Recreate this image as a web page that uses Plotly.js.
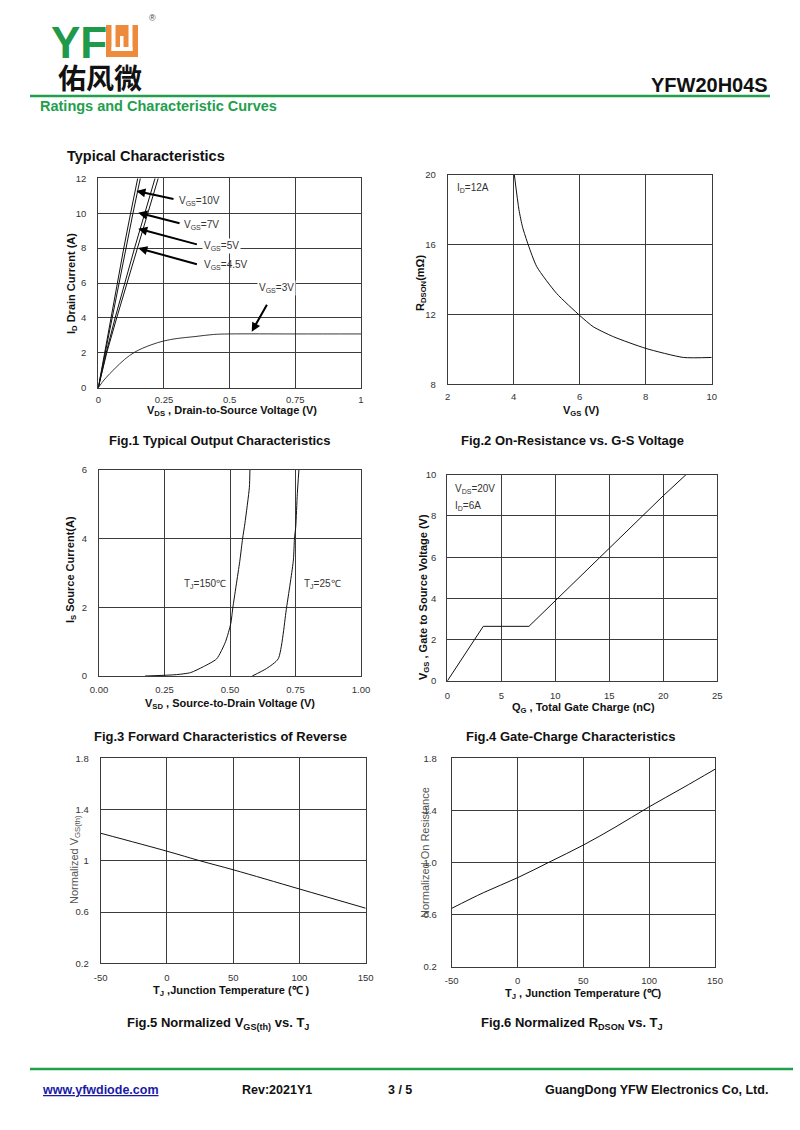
<!DOCTYPE html>
<html><head><meta charset="utf-8">
<script src="https://cdn.plot.ly/plotly-3.0.1.min.js"></script>
<style>html,body{margin:0;padding:0;background:#fff}#chart{width:800px;height:1130px}</style>
</head><body><div id="chart"></div>
<script>
// ---------- DATA ----------
// Fig.1 Typical Output Characteristics (ID levels vs VDS)
const fig1IdLevels = [0, 2, 4, 6, 8, 10, 12];
const fig1Vds10V  = [0, 0.024, 0.048, 0.072, 0.097, 0.123, 0.150];
const fig1Vds7V   = [0, 0.026, 0.052, 0.080, 0.105, 0.132, 0.160];
const fig1Vds5V   = [0, 0.030, 0.064, 0.100, 0.138, 0.177, 0.216];
const fig1Vds45V  = [0, 0.032, 0.070, 0.110, 0.148, 0.188, 0.228];
const fig1Vds3V   = [0, 0.025, 0.064, 0.1, 0.14, 0.2, 0.25, 0.3, 0.368, 0.438, 0.5, 0.75, 1];
const fig1Id3V    = [0, 0.5, 1.11, 1.62, 2.05, 2.45, 2.68, 2.82, 2.93, 3.05, 3.08, 3.08, 3.08];
// Fig.2 On-Resistance vs VGS
const fig2Vgs   = [4.02, 4.16, 4.27, 4.44, 4.7, 5.3, 6.01, 6.41, 7.02, 8.0, 9.14, 10];
const fig2Rdson = [20, 18, 17, 16, 14.74, 13.21, 11.93, 11.3, 10.73, 10.06, 9.54, 9.54];
// Fig.3 Forward characteristics of reverse diode
const fig3Vsd150 = [0.176, 0.296, 0.35, 0.398, 0.449, 0.483, 0.503, 0.511, 0.538, 0.548, 0.557, 0.574, 0.576];
const fig3Is150  = [0, 0.04, 0.1, 0.27, 0.5, 1.0, 1.53, 2.0, 3.38, 4.0, 4.45, 5.5, 6];
const fig3Vsd25  = [0.585, 0.64, 0.684, 0.716, 0.742, 0.746, 0.751, 0.757, 0.763];
const fig3Is25   = [0, 0.22, 0.5, 2.0, 3.38, 4.0, 4.35, 5.32, 6];
// Fig.4 Gate charge
const fig4Qg  = [0, 3.33, 7.56, 10, 15, 20, 22.1];
const fig4Vgs = [0, 2.65, 2.65, 3.9, 6.44, 8.98, 10];
// Fig.5 Normalized VGS(th) vs TJ
const fig5Tj  = [-50, 0, 25, 50, 100, 150];
const fig5Vth = [1.215, 1.075, 1.0, 0.93, 0.78, 0.63];
// Fig.6 Normalized RDSON vs TJ
const fig6Tj   = [-50, -26, 0, 24.7, 50, 74, 99.4, 125, 150];
const fig6Rdson = [0.648, 0.768, 0.883, 1.006, 1.134, 1.27, 1.424, 1.57, 1.716];

// tick labels
const fig1XTicks = [0, 0.25, 0.5, 0.75, 1];      const fig1XText = ['0','0.25','0.5','0.75','1'];
const fig1YTicks = [0, 2, 4, 6, 8, 10, 12];
const fig2XTicks = [2, 4, 6, 8, 10];             const fig2YTicks = [8, 12, 16, 20];
const fig3XTicks = [0, 0.25, 0.5, 0.75, 1];      const fig3XText = ['0.00','0.25','0.50','0.75','1.00'];
const fig3YTicks = [0, 2, 4, 6];
const fig4XTicks = [0, 5, 10, 15, 20, 25];       const fig4YTicks = [0, 2, 4, 6, 8, 10];
const fig5XTicks = [-50, 0, 50, 100, 150];       const fig5YTicks = [0.2, 0.6, 1, 1.4, 1.8];
const fig5YText = ['0.2','0.6','1','1.4','1.8'];
const fig6XTicks = [-50, 0, 50, 100, 150];       const fig6YTicks = [0.2, 0.6, 1.0, 1.4, 1.8];
const fig6YText = ['0.2','0.6','1.0','1.4','1.8'];

// ---------- LAYOUT ----------
const W = 800, H = 1130;
const FONT = 'Liberation Sans, Arial, Helvetica, sans-serif';
const GREEN = '#21a04c';
const px = x => x / W, py = y => 1 - y / H;

const boxes = [
  [98.3, 361, 178.3, 387.7],
  [447.7, 711.7, 175, 384.3],
  [99, 361, 470, 676],
  [447.3, 717.3, 474.7, 681],
  [100.7, 365.7, 758.3, 963.3],
  [451.7, 715, 758.3, 966.7]
];
const ranges = [
  [[0,1],[0,12]], [[2,10],[8,20]], [[0,1],[0,6]], [[0,25],[0,10]], [[-50,150],[0.2,1.8]], [[-50,150],[0.2,1.8]]
];
const ticks = [
  [fig1XTicks, fig1XText, fig1YTicks, null],
  [fig2XTicks, null, fig2YTicks, null],
  [fig3XTicks, fig3XText, fig3YTicks, null],
  [fig4XTicks, null, fig4YTicks, null],
  [fig5XTicks, null, fig5YTicks, fig5YText],
  [fig6XTicks, null, fig6YTicks, fig6YText]
];
const xStand = [3, 3, 5, 6, 5, 5];
const yStand = [9, 9, 9, 8, 9, 12];

const layout = {
  width: W, height: H, margin: {l:0, r:0, t:0, b:0},
  paper_bgcolor: '#fff', plot_bgcolor: '#fff', showlegend: false,
  font: {family: FONT, color: '#000'},
  annotations: [], shapes: []
};
const GRID = '#3c3c3c';
boxes.forEach((b, i) => {
  const n = i + 1, sx = n === 1 ? '' : n;
  const [xt, xtt, yt, ytt] = ticks[i];
  layout['xaxis' + sx] = {
    domain: [px(b[0]), px(b[1])], range: ranges[i][0], anchor: 'y' + sx,
    tickmode: 'array', tickvals: xt, ticktext: xtt || xt.map(String),
    showgrid: true, gridcolor: GRID, gridwidth: 1, zeroline: false,
    showline: true, mirror: true, linecolor: GRID, linewidth: 1, ticks: '',
    ticklabelstandoff: xStand[i],
    tickfont: {family: FONT, size: 9.5, color: '#333'}, fixedrange: true
  };
  layout['yaxis' + sx] = {
    domain: [py(b[3]), py(b[2])], range: ranges[i][1], anchor: 'x' + sx,
    tickmode: 'array', tickvals: yt, ticktext: ytt || yt.map(String),
    showgrid: true, gridcolor: GRID, gridwidth: 1, zeroline: false,
    showline: true, mirror: true, linecolor: GRID, linewidth: 1, ticks: '',
    ticklabelstandoff: yStand[i],
    tickfont: {family: FONT, size: 9.5, color: '#333'}, fixedrange: true
  };
});

const A = layout.annotations, S = layout.shapes;
function txt(x, y, text, o) {
  o = o || {};
  A.push(Object.assign({
    xref: 'paper', yref: 'paper', x: px(x), y: py(y), text: text, showarrow: false,
    xanchor: 'center', yanchor: 'middle',
    font: {family: FONT, size: 11, color: '#000'}
  }, o));
}
function line(x0, y0, x1, y1, color, w) {
  S.push({type: 'line', xref: 'paper', yref: 'paper', x0: px(x0), y0: py(y0), x1: px(x1), y1: py(y1),
          line: {color: color, width: w}});
}
function rect(x0, y0, x1, y1, color) {
  S.push({type: 'rect', xref: 'paper', yref: 'paper', x0: px(x0), y0: py(y0), x1: px(x1), y1: py(y1),
          fillcolor: color, line: {width: 0}});
}

// ---------- HEADER ----------
txt(49, 42, '<b>YF</b>', {xanchor: 'left', font: {family: 'Liberation Sans Narrow, Liberation Sans, sans-serif', size: 44, color: '#1e9a4a'}});
rect(106, 25, 138, 57, '#ee8a3c');
rect(111.5, 25, 115.5, 51, '#fff');
rect(128.5, 25, 132.5, 51, '#fff');
rect(111.5, 47, 132.5, 51, '#fff');
rect(120, 36, 123.5, 51, '#fff');
txt(152, 18, '®', {font: {family: FONT, size: 9, color: '#444'}});
txt(100, 77, '<b>佑风微</b>', {font: {family: 'Noto Sans CJK SC, sans-serif', size: 28, color: '#111'}});
txt(770, 85, '<b>YFW20H04S</b>', {xanchor: 'right', font: {family: FONT, size: 20, color: '#111'}});
line(30, 96, 770, 96, GREEN, 2.5);
txt(38, 106, '<b>Ratings and Characteristic Curves</b>', {xanchor: 'left', font: {family: FONT, size: 14.5, color: GREEN}});
txt(65, 156, '<b>Typical Characteristics</b>', {xanchor: 'left', font: {family: FONT, size: 14.5, color: '#111'}});

// ---------- TRACES ----------
const ln = {color: '#111', width: 1};
const traces = [
  {x: fig1Vds10V, y: fig1IdLevels, xaxis: 'x', yaxis: 'y', name: 'VGS=10V'},
  {x: fig1Vds7V,  y: fig1IdLevels, xaxis: 'x', yaxis: 'y', name: 'VGS=7V'},
  {x: fig1Vds5V,  y: fig1IdLevels, xaxis: 'x', yaxis: 'y', name: 'VGS=5V'},
  {x: fig1Vds45V, y: fig1IdLevels, xaxis: 'x', yaxis: 'y', name: 'VGS=4.5V'},
  {x: fig1Vds3V,  y: fig1Id3V,     xaxis: 'x', yaxis: 'y', name: 'VGS=3V', line: {color: '#222', width: 0.9, shape: 'spline'}},
  {x: fig2Vgs, y: fig2Rdson, xaxis: 'x2', yaxis: 'y2', line: {color: '#111', width: 1, shape: 'spline', smoothing: 0.6}},
  {x: fig3Vsd150, y: fig3Is150, xaxis: 'x3', yaxis: 'y3', line: {color: '#111', width: 1, shape: 'spline', smoothing: 0.6}},
  {x: fig3Vsd25,  y: fig3Is25,  xaxis: 'x3', yaxis: 'y3', line: {color: '#111', width: 1, shape: 'spline', smoothing: 0.6}},
  {x: fig4Qg, y: fig4Vgs, xaxis: 'x4', yaxis: 'y4'},
  {x: fig5Tj, y: fig5Vth, xaxis: 'x5', yaxis: 'y5', line: {color: '#111', width: 1, shape: 'spline'}},
  {x: fig6Tj, y: fig6Rdson, xaxis: 'x6', yaxis: 'y6', line: {color: '#111', width: 1, shape: 'spline'}}
].map(t => Object.assign({type: 'scatter', mode: 'lines', line: ln, hoverinfo: 'skip'}, t));

// ---------- FIG.1 ANNOTATIONS ----------
const labFont = {family: FONT, size: 10, color: '#333'};
function arrow(xr, yr, x, y, ax, ay) {
  A.push({xref: xr, yref: yr, axref: xr, ayref: yr, x: x, y: y, ax: ax, ay: ay, text: '',
          showarrow: true, arrowhead: 2, arrowsize: 0.9, arrowwidth: 2, arrowcolor: '#000', standoff: 0});
}
function dlab(xr, yr, x, y, text, bg) {
  A.push({xref: xr, yref: yr, x: x, y: y, text: text, showarrow: false, xanchor: 'left', yanchor: 'middle',
          font: labFont, bgcolor: bg ? '#fff' : 'rgba(0,0,0,0)', borderpad: 1});
}
arrow('x', 'y', 0.145, 11.27, 0.292, 10.8);
arrow('x', 'y', 0.152, 10.03, 0.315, 9.40);
arrow('x', 'y', 0.152, 9.11, 0.381, 8.19);
arrow('x', 'y', 0.152, 8.0, 0.381, 7.05);
arrow('x', 'y', 0.584, 3.21, 0.645, 4.84);
dlab('x', 'y', 0.300, 10.7, 'V<sub>GS</sub>=10V');
dlab('x', 'y', 0.320, 9.34, 'V<sub>GS</sub>=7V');
dlab('x', 'y', 0.394, 8.12, 'V<sub>GS</sub>=5V', true);
dlab('x', 'y', 0.394, 7.01, 'V<sub>GS</sub>=4.5V');
dlab('x', 'y', 0.603, 5.70, 'V<sub>GS</sub>=3V', true);

// in-plot labels for other figs
txt(455, 188, 'I<sub>D</sub>=12A', {xanchor: 'left', font: labFont});
txt(182, 584, 'T<sub>J</sub>=150℃', {xanchor: 'left', font: labFont});
txt(302, 584, 'T<sub>J</sub>=25℃', {xanchor: 'left', font: labFont});
txt(453, 489, 'V<sub>DS</sub>=20V', {xanchor: 'left', font: labFont});
txt(453, 506, 'I<sub>D</sub>=6A', {xanchor: 'left', font: labFont});

// ---------- AXIS TITLES ----------
const atFont = {family: FONT, size: 11, color: '#111'};
const atFontR = {family: FONT, size: 11, color: '#555'};
txt(232, 411, '<b>V<sub>DS</sub> , Drain-to-Source Voltage (V)</b>', {font: atFont});
txt(72, 284, '<b>I<sub>D</sub> Drain Current (A)</b>', {textangle: -90, font: atFont});
txt(581, 411, '<b>V<sub>GS</sub> (V)</b>', {font: atFont});
txt(421, 283, '<b>R<sub>DSON</sub>(mΩ)</b>', {textangle: -90, font: atFont});
txt(230, 704, '<b>V<sub>SD</sub> , Source-to-Drain Voltage (V)</b>', {font: atFont});
txt(71, 570, '<b>I<sub>S</sub> Source Current(A)</b>', {textangle: -90, font: atFont});
txt(583, 708, '<b>Q<sub>G</sub> , Total Gate Charge (nC)</b>', {font: atFont});
txt(424, 597, '<b>V<sub>GS</sub> , Gate to Source Voltage (V)</b>', {textangle: -90, font: atFont});
txt(232, 991, '<b>T<sub>J</sub> ,Junction Temperature (℃ )</b>', {font: atFont});
txt(75, 860, 'Normalized V<sub>GS(th)</sub>', {textangle: -90, font: atFontR});
txt(583, 994, '<b>T<sub>J</sub> , Junction Temperature (℃)</b>', {font: atFont});
txt(425, 853, 'Normalized On Resistance', {textangle: -90, font: atFontR});

// ---------- CAPTIONS ----------
const capFont = {family: FONT, size: 13, color: '#111'};
txt(220, 441, '<b>Fig.1 Typical Output Characteristics</b>', {font: capFont});
txt(572, 441, '<b>Fig.2 On-Resistance vs. G-S Voltage</b>', {font: capFont});
txt(220, 736, '<b>Fig.3 Forward Characteristics of Reverse</b>', {font: capFont});
txt(571, 736, '<b>Fig.4 Gate-Charge Characteristics</b>', {font: capFont});
txt(218, 1023, '<b>Fig.5 Normalized V<sub>GS(th)</sub> vs. T<sub>J</sub></b>', {font: capFont});
txt(572, 1023, '<b>Fig.6 Normalized R<sub>DSON</sub> vs. T<sub>J</sub></b>', {font: capFont});

// ---------- FOOTER ----------
line(30, 1069, 793, 1069, GREEN, 2.5);
const ftFont = {family: FONT, size: 12.5, color: '#111'};
txt(40, 1090, '<b><u>www.yfwdiode.com</u></b>', {xanchor: 'left', font: {family: FONT, size: 12.5, color: '#1a1aa6'}});
txt(240, 1090, '<b>Rev:2021Y1</b>', {xanchor: 'left', font: ftFont});
txt(400, 1090, '<b>3 / 5</b>', {font: ftFont});
txt(770, 1090, '<b>GuangDong YFW Electronics Co, Ltd.</b>', {xanchor: 'right', font: ftFont});

Plotly.newPlot('chart', traces, layout, {staticPlot: true, displayModeBar: false});
</script></body></html>
